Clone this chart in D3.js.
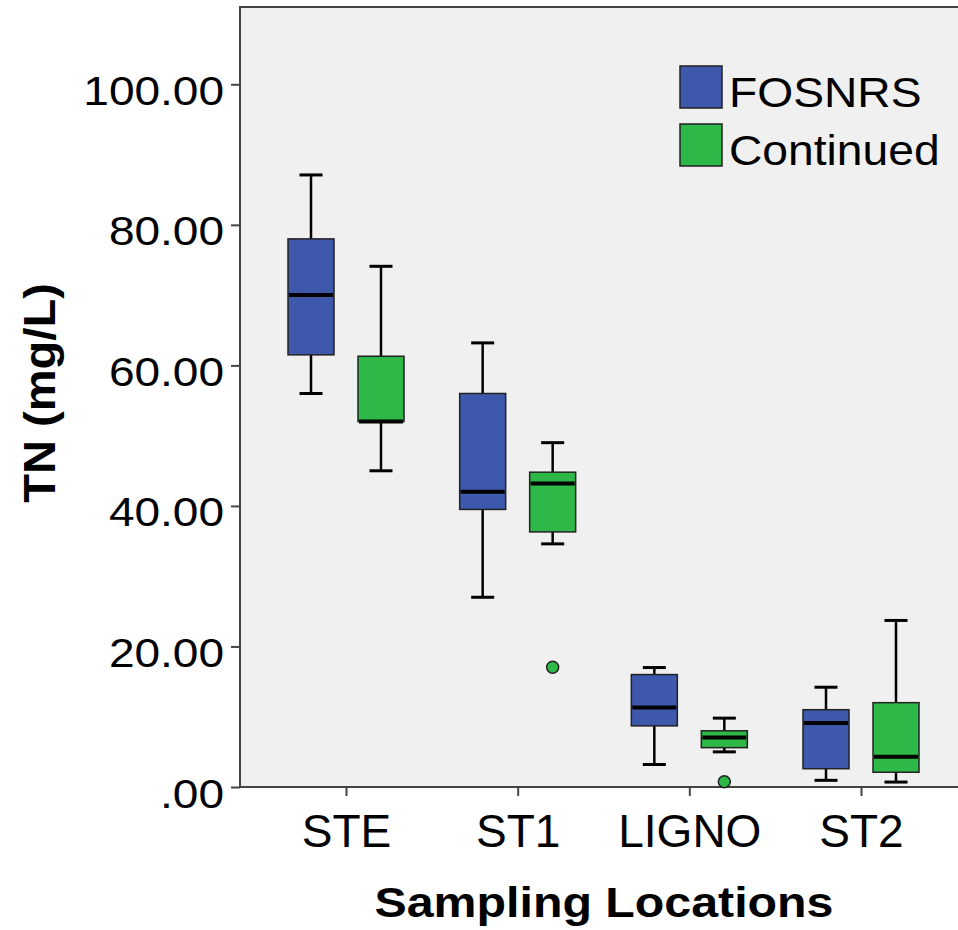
<!DOCTYPE html>
<html>
<head>
<meta charset="utf-8">
<script src="https://cdn.jsdelivr.net/npm/d3@7"></script>
<style>
  body { margin: 0; background: #fff; }
  svg text { font-family: "Liberation Sans", Arial, sans-serif; fill: #000; }
</style>
</head>
<body>
<svg id="chart" width="958" height="930"></svg>
<script>
// Categories and groups
const locations = ["STE", "ST1", "LIGNO", "ST2"];
const groups = ["FOSNRS", "Continued"];
const groupColors = ["#3e58ac", "#2eb848"];

// Box stats per group, in location order: [whiskerLow, q1, median, q3, whiskerHigh]
const fosnrsStats = [
  [56.0, 61.5, 70.0, 78.0, 87.1],
  [27.0, 39.5, 42.0, 56.0, 63.2],
  [3.2, 8.7, 11.3, 16.0, 17.0],
  [0.95, 2.6, 9.1, 11.0, 14.2]
];
const continuedStats = [
  [45.0, 52.0, 52.0, 61.3, 74.1],
  [34.6, 36.3, 43.2, 44.8, 49.0],
  [5.0, 5.6, 7.05, 8.0, 9.8],
  [0.7, 2.1, 4.3, 12.0, 23.7]
];
// Outliers: [location, group index, value]
const outliers = [
  ["ST1", 1, 17.05],
  ["LIGNO", 1, 0.76]
];
const yTicks = [0, 20, 40, 60, 80, 100];

const svg = d3.select("#chart");

const frame = { left: 240, top: 7, bottom: 787, right: 967 };

// Stretch text horizontally to match the wide lettering of the original
function stretch(sel, factor) {
    sel.each(function() {
        const len = this.getComputedTextLength();
        d3.select(this)
            .attr("textLength", len * factor)
            .attr("lengthAdjust", "spacingAndGlyphs");
    });
}

// Scales
const x = d3.scalePoint()
    .domain(locations)
    .range([346, 861]);
const offset = d3.scalePoint()
    .domain(groups)
    .range([-35, 35]);
const y = d3.scaleLinear()
    .domain([0, 111])
    .range([frame.bottom, frame.top]);

const boxWidth = 46;
const capWidth = 23;

// Plot background
svg.append("rect")
    .attr("x", frame.left)
    .attr("y", frame.top)
    .attr("width", frame.right - frame.left)
    .attr("height", frame.bottom - frame.top)
    .attr("fill", "#f0f0f0")
    .attr("stroke", "#444")
    .attr("stroke-width", 2);

// Y axis
const yAxis = svg.append("g")
    .attr("transform", `translate(${frame.left},0)`)
    .call(d3.axisLeft(y)
        .tickValues(yTicks)
        .tickSize(9)
        .tickPadding(7)
        .tickFormat(d => d3.format(".2f")(d).replace(/^0\./, ".")));
yAxis.select(".domain").remove();
yAxis.selectAll("line").attr("stroke", "#444").attr("stroke-width", 2);
yAxis.selectAll("text")
    .attr("font-size", 40)
    .attr("font-family", "Liberation Sans, Arial, sans-serif")
    .attr("fill", "#000")
    .attr("dy", "0.5em")
    .call(stretch, 1.15);

// X axis
const xAxis = svg.append("g")
    .attr("transform", `translate(0,${frame.bottom})`)
    .call(d3.axisBottom(x).tickSize(9).tickPadding(0));
xAxis.select(".domain").remove();
xAxis.selectAll("line").attr("stroke", "#444").attr("stroke-width", 2);
xAxis.selectAll("text")
    .attr("font-size", 46)
    .attr("font-family", "Liberation Sans, Arial, sans-serif")
    .attr("fill", "#000")
    .attr("y", 60)
    .attr("dy", 0);

// Boxes
const allStats = [fosnrsStats, continuedStats];
const boxData = [];
allStats.forEach((stats, gi) => {
    stats.forEach((s, li) => {
        boxData.push({ loc: locations[li], gi, s });
    });
});

const boxes = svg.append("g").selectAll("g")
    .data(boxData)
    .join("g")
    .attr("transform", d => `translate(${x(d.loc) + offset(groups[d.gi])},0)`);

// whiskers
boxes.append("line")
    .attr("x1", 0).attr("x2", 0)
    .attr("y1", d => y(d.s[0])).attr("y2", d => y(d.s[1]))
    .attr("stroke", "#000").attr("stroke-width", 2.5);
boxes.append("line")
    .attr("x1", 0).attr("x2", 0)
    .attr("y1", d => y(d.s[3])).attr("y2", d => y(d.s[4]))
    .attr("stroke", "#000").attr("stroke-width", 2.5);
boxes.selectAll("line.cap")
    .data(d => [d.s[0], d.s[4]])
    .join("line")
    .attr("class", "cap")
    .attr("x1", -capWidth / 2).attr("x2", capWidth / 2)
    .attr("y1", v => y(v)).attr("y2", v => y(v))
    .attr("stroke", "#000").attr("stroke-width", 3);

boxes.append("rect")
    .attr("x", -boxWidth / 2)
    .attr("width", boxWidth)
    .attr("y", d => y(d.s[3]))
    .attr("height", d => y(d.s[1]) - y(d.s[3]))
    .attr("fill", d => groupColors[d.gi])
    .attr("stroke", "#222")
    .attr("stroke-width", 1.5);

// median
boxes.append("line")
    .attr("x1", -boxWidth / 2 + 1).attr("x2", boxWidth / 2 - 1)
    .attr("y1", d => y(d.s[2])).attr("y2", d => y(d.s[2]))
    .attr("stroke", "#000").attr("stroke-width", 4);

// Outliers
svg.append("g").selectAll("circle")
    .data(outliers)
    .join("circle")
    .attr("cx", d => x(d[0]) + offset(groups[d[1]]))
    .attr("cy", d => y(d[2]))
    .attr("r", 6)
    .attr("fill", d => groupColors[d[1]])
    .attr("stroke", "#222")
    .attr("stroke-width", 1.5);

// Legend
const legend = svg.append("g")
    .attr("transform", "translate(680,66)");
const legendItems = legend.selectAll("g")
    .data(groups)
    .join("g")
    .attr("transform", (d, i) => `translate(0,${i * 58})`);
legendItems.append("rect")
    .attr("width", 42).attr("height", 42)
    .attr("fill", (d, i) => groupColors[i])
    .attr("stroke", "#222")
    .attr("stroke-width", 1.5);
legendItems.append("text")
    .attr("x", 49).attr("y", 41)
    .attr("font-size", 42)
    .text(d => d)
    .call(stretch, 1.1);

// Axis titles
svg.append("text")
    .attr("x", 604).attr("y", 917)
    .attr("text-anchor", "middle")
    .attr("font-size", 42)
    .attr("font-weight", "bold")
    .text("Sampling Locations")
    .call(stretch, 1.15);

svg.append("text")
    .attr("transform", "translate(55,393) rotate(-90)")
    .attr("text-anchor", "middle")
    .attr("font-size", 44)
    .attr("font-weight", "bold")
    .text("TN (mg/L)")
    .call(stretch, 1.07);
</script>
</body>
</html>
